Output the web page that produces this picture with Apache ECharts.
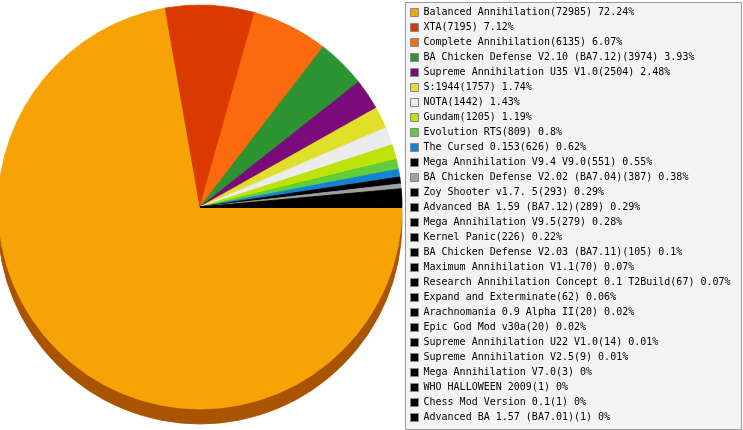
<!DOCTYPE html>
<html>
<head>
<meta charset="utf-8">
<script src="https://cdn.jsdelivr.net/npm/echarts@6/dist/echarts.min.js"></script>
<style>html,body{margin:0;padding:0;background:#fff;}#c{width:743px;height:430px;}</style>
</head>
<body>
<div id="c"></div>
<script>
var names = ['Balanced Annihilation','XTA','Complete Annihilation','BA Chicken Defense V2.10 (BA7.12)','Supreme Annihilation U35 V1.0','S:1944','NOTA','Gundam','Evolution RTS','The Cursed 0.153','Mega Annihilation V9.4 V9.0','BA Chicken Defense V2.02 (BA7.04)','Zoy Shooter v1.7. 5','Advanced BA 1.59 (BA7.12)','Mega Annihilation V9.5','Kernel Panic','BA Chicken Defense V2.03 (BA7.11)','Maximum Annihilation V1.1','Research Annihilation Concept 0.1 T2Build','Expand and Exterminate','Arachnomania 0.9 Alpha II','Epic God Mod v30a','Supreme Annihilation U22 V1.0','Supreme Annihilation V2.5','Mega Annihilation V7.0','WHO HALLOWEEN 2009','Chess Mod Version 0.1','Advanced BA 1.57 (BA7.01)'];
var values = [72985,7195,6135,3974,2504,1757,1442,1205,809,626,551,387,293,289,279,226,105,70,67,62,20,20,14,9,3,1,1,1];
var colors = ['#f8a305','#da3a00','#fc6a0f','#2e9431','#7b0a7b','#e0df2a','#ececec','#bde30a','#60cd3a','#1384d5','#000000','#a0a0a0','#000000','#000000','#000000','#000000','#000000','#000000','#000000','#000000','#000000','#000000','#000000','#000000','#000000','#000000','#000000','#000000'];
var depthColor = '#a85400';

var total = values.reduce(function(a,b){return a+b;},0);
var labelMap = {};
names.forEach(function(n,i){
  var pct = Number((values[i]/total*100).toFixed(2));
  labelMap[n] = n + '(' + values[i] + ') ' + pct + '%';
});
var mainData = names.map(function(n,i){return {name:n, value:values[i], itemStyle:{color:colors[i], borderColor:colors[i]}};});
var depthData = names.map(function(n,i){return {name:n, value:values[i], itemStyle:{color:depthColor, borderColor:depthColor}};});

var chart = echarts.init(document.getElementById('c'), null, {renderer:'canvas'});
chart.setOption({
  animation:false,
  graphic:[{type:'rect', z:0, shape:{x:405.5,y:2.5,width:336,height:427}, style:{fill:'#f3f3f3', stroke:'#9a9a9a', lineWidth:1}}],
  legend:{
    orient:'vertical', left:410, top:5, padding:0, itemGap:0,
    itemWidth:8, itemHeight:8, icon:'rect', selectedMode:false,
    data:names,
    itemStyle:{borderColor:'#888888', borderWidth:1},
    textStyle:{fontFamily:'DejaVu Sans Mono', fontSize:10, color:'#000000', lineHeight:15},
    formatter:function(n){return labelMap[n];}
  },
  series:[
    {type:'pie', z:3, center:[200,207], radius:202, startAngle:0, clockwise:true, silent:true,
     label:{show:false}, labelLine:{show:false}, itemStyle:{borderWidth:0.8}, emphasis:{disabled:true},
     data:mainData},
    {type:'pie', z:2, center:[200,222], radius:202, startAngle:0, clockwise:true, silent:true,
     label:{show:false}, labelLine:{show:false}, itemStyle:{borderWidth:0.8}, emphasis:{disabled:true},
     data:depthData}
  ]
});
</script>
</body>
</html>
